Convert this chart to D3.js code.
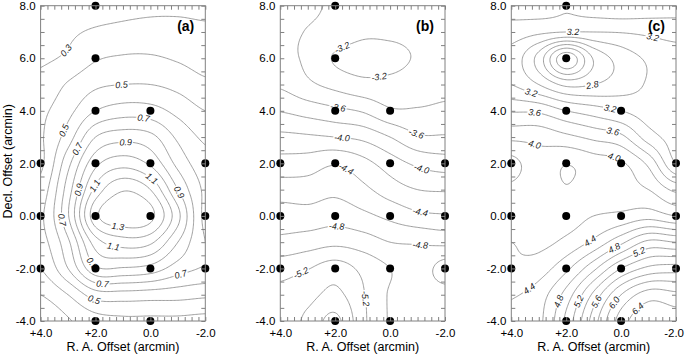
<!DOCTYPE html>
<html>
<head>
<meta charset="utf-8">
<script src="https://cdn.jsdelivr.net/npm/d3@7"></script>
<style>
  body { margin: 0; background: #fff; }
  svg { display: block; font-family: "Liberation Sans", Arial, sans-serif; }
</style>
</head>
<body>
<div id="chart"></div>
<script>
// grid nodes (arcmin): columns run R.A. +4 .. -2, rows run Decl. +8 .. -4
var raNodes = [4, 3, 2, 1, 0, -1, -2];
var decNodes = [8, 7, 6, 5, 4, 3, 2, 1, 0, -1, -2, -3, -4];

// measured positions (black dots)
var pointRA  = [2, 2, 2, 0, 4, 2, 0, -2, 4, 2, 0, -2, 4, 2, 0, -2, 2, 0];
var pointDec = [8, 6, 4, 4, 2, 2, 2, 2, 0, 0, 0, 0, -2, -2, -2, -2, -4, -4];

// panel (a) values
var gridA = [
  [0.10, 0.16, 0.21, 0.25, 0.27, 0.27, 0.26],
  [0.20, 0.27, 0.32, 0.34, 0.35, 0.35, 0.33],
  [0.28, 0.32, 0.39, 0.41, 0.41, 0.39, 0.36],
  [0.33, 0.41, 0.48, 0.50, 0.50, 0.47, 0.42],
  [0.38, 0.47, 0.60, 0.65, 0.64, 0.57, 0.50],
  [0.39, 0.55, 0.80, 0.86, 0.83, 0.68, 0.58],
  [0.38, 0.67, 0.97, 1.06, 0.98, 0.77, 0.64],
  [0.44, 0.75, 1.13, 1.29, 1.20, 0.90, 0.68],
  [0.48, 0.79, 1.27, 1.37, 1.33, 1.03, 0.67],
  [0.46, 0.68, 1.05, 1.15, 1.12, 0.90, 0.70],
  [0.40, 0.60, 0.88, 0.89, 0.86, 0.75, 0.69],
  [0.30, 0.40, 0.55, 0.56, 0.55, 0.54, 0.52],
  [0.22, 0.29, 0.36, 0.38, 0.38, 0.38, 0.37]
];
// panel (b)
var gridB = [
  [-3.52, -3.44, -3.37, -3.31, -3.30, -3.31, -3.33],
  [-3.45, -3.39, -3.33, -3.24, -3.24, -3.26, -3.30],
  [-3.46, -3.36, -3.18, -3.12, -3.14, -3.22, -3.28],
  [-3.57, -3.44, -3.34, -3.26, -3.26, -3.30, -3.35],
  [-3.79, -3.72, -3.65, -3.58, -3.43, -3.42, -3.44],
  [-4.05, -4.03, -4.00, -3.95, -3.80, -3.63, -3.62],
  [-4.28, -4.30, -4.38, -4.27, -4.10, -3.96, -3.90],
  [-4.50, -4.50, -4.55, -4.45, -4.30, -4.20, -4.18],
  [-4.70, -4.68, -4.72, -4.65, -4.55, -4.45, -4.42],
  [-4.85, -4.90, -4.95, -4.90, -4.80, -4.78, -4.75],
  [-5.12, -5.19, -5.30, -5.15, -5.00, -4.90, -5.08],
  [-5.25, -5.33, -5.45, -5.22, -4.98, -4.90, -4.92],
  [-5.28, -5.45, -5.65, -5.25, -4.98, -4.88, -4.88]
];
// panel (c)
var gridC = [
  [3.50, 3.50, 3.42, 3.50, 3.55, 3.52, 3.48],
  [3.30, 3.24, 3.20, 3.20, 3.21, 3.24, 3.28],
  [3.12, 2.72, 2.05, 2.62, 2.88, 3.03, 3.10],
  [3.20, 3.00, 2.75, 2.80, 2.90, 3.02, 3.10],
  [3.58, 3.56, 3.40, 3.30, 3.20, 3.10, 3.10],
  [3.95, 3.93, 3.85, 3.75, 3.65, 3.30, 3.12],
  [4.26, 4.08, 4.19, 4.10, 4.03, 3.75, 3.20],
  [4.16, 4.08, 4.19, 4.10, 4.08, 4.00, 3.75],
  [4.10, 4.10, 4.12, 4.20, 4.25, 4.32, 4.20],
  [4.20, 4.15, 4.25, 4.45, 4.75, 5.05, 5.00],
  [4.22, 4.30, 4.55, 4.95, 5.40, 5.65, 5.70],
  [4.38, 4.50, 4.88, 5.45, 6.00, 6.30, 6.25],
  [4.45, 4.55, 5.05, 5.70, 6.30, 6.55, 6.50]
];

// contour levels
var levelsA = [0.3, 0.4, 0.5, 0.6, 0.7, 0.8, 0.9, 1.0, 1.1, 1.2, 1.3];
var levelsB = [-5.6, -5.4, -5.2, -5.0, -4.8, -4.6, -4.4, -4.2, -4.0, -3.8, -3.6, -3.4, -3.2];
var levelsC = [2.2, 2.4, 2.6, 2.8, 3.0, 3.2, 3.4, 3.6, 3.8, 4.0, 4.2, 4.4, 4.6, 4.8, 5.0, 5.2, 5.4, 5.6, 5.8, 6.0, 6.2, 6.4];

// contour labels: [text, approx R.A., approx Decl.]
var labelsA = [
  ["0.3", 3.23, 6.44], ["0.5", 1.04, 5.05], ["0.5", 3.36, 3.35], ["0.7", 0.27, 3.65],
  ["0.7", 2.81, 2.64], ["0.9", 0.92, 2.83], ["0.9", 2.84, 1.04], ["1.1", 2.14, 1.23],
  ["1.1", -0.08, 1.48], ["0.9", -0.96, 0.86], ["0.7", 3.36, -0.15], ["1.3", 1.17, -0.4],
  ["1.1", 1.37, -1.26], ["0.9", 2.0, -1.7], ["0.7", 1.77, -2.63], ["0.5", 2.08, -3.26],
  ["0.7", -1.15, -2.31]
];
var labelsB = [
  ["-3.2", 1.9, 6.76], ["-3.2", 0.45, 5.62], ["-3.6", 1.9, 4.16], ["-3.6", -1.0, 3.24],
  ["-4.0", 1.77, 3.02], ["-4.0", -1.14, 1.81], ["-4.4", 1.59, 1.81], ["-4.4", -1.14, 0.35],
  ["-4.8", 1.96, -0.3], ["-4.8", -1.1, -1.06], ["-5.2", 3.17, -2.3], ["-5.2", 0.87, -3.14]
];
var labelsC = [
  ["3.2", 1.76, 7.01], ["3.2", -1.15, 6.82], ["2.8", 1.09, 5.17], ["3.2", 3.21, 4.92],
  ["3.6", 3.15, 3.9], ["3.2", 0.42, 3.9], ["3.6", 0.36, 3.02], ["4.0", 3.15, 2.77],
  ["4.0", 0.3, 2.09], ["4.4", 1.27, -0.73], ["4.8", 0.3, -1.1], ["5.2", -0.67, -1.36],
  ["4.4", 3.21, -3.0], ["4.8", 2.3, -3.26], ["5.2", 1.51, -3.26], ["5.6", 0.91, -3.26],
  ["6.0", 0.36, -3.26], ["6.4", -0.55, -3.45]
];

var panelTags = ["(a)", "(b)", "(c)"];
var xTicks = [4, 2, 0, -2];
var yTicks = [8, 6, 4, 2, 0, -2, -4];

var panels = [
  {grid: gridA, levels: levelsA, labels: labelsA, tag: panelTags[0]},
  {grid: gridB, levels: levelsB, labels: labelsB, tag: panelTags[1]},
  {grid: gridC, levels: levelsC, labels: labelsC, tag: panelTags[2]}
];

var W = 685, H = 359;
var panelLeft = [40.6, 280.3, 511.3];
var panelW = 164.7, plotTop = 5.7, plotH = 315.3;
var lineColor = "#808080";

var svg = d3.select("#chart").append("svg")
  .attr("width", W)
  .attr("height", H);

// smooth sampling of the coarse grid (Catmull-Rom) for drawing
function sampler(grid) {
  var rows = grid.length, cols = grid[0].length;
  function g(r, c) {
    r = Math.max(0, Math.min(rows - 1, r));
    c = Math.max(0, Math.min(cols - 1, c));
    return grid[r][c];
  }
  function cr(p0, p1, p2, p3, t) {
    return p1 + 0.5 * t * (p2 - p0 + t * (2 * p0 - 5 * p1 + 4 * p2 - p3 + t * (3 * (p1 - p2) + p3 - p0)));
  }
  return function(u, v) {
    u = Math.max(0, Math.min(cols - 1, u));
    v = Math.max(0, Math.min(rows - 1, v));
    var c = Math.min(Math.floor(u), cols - 2), r = Math.min(Math.floor(v), rows - 2);
    var tu = u - c, tv = v - r, tmp = [];
    for (var k = -1; k <= 2; k++) {
      tmp.push(cr(g(r + k, c - 1), g(r + k, c), g(r + k, c + 1), g(r + k, c + 2), tu));
    }
    return cr(tmp[0], tmp[1], tmp[2], tmp[3], tv);
  };
}

var step = 0.05, pad = 0.1;
var nx = Math.round((raNodes[0] - raNodes[raNodes.length - 1] + 2 * pad) / step) + 1;
var ny = Math.round((decNodes[0] - decNodes[decNodes.length - 1] + 2 * pad) / step) + 1;

panels.forEach(function(p, pi) {
  var left = panelLeft[pi];
  var x = d3.scaleLinear().domain([4, -2]).range([left, left + panelW]);
  var y = d3.scaleLinear().domain([8, -4]).range([plotTop, plotTop + plotH]);

  var f = sampler(p.grid);
  var values = new Array(nx * ny);
  for (var j = 0; j < ny; j++) {
    for (var i = 0; i < nx; i++) {
      values[j * nx + i] = f(-pad + i * step, -pad + j * step);
    }
  }
  var contours = d3.contours().size([nx, ny]).thresholds(p.levels)(values);

  function toPix(c) {
    return [x(4 - (-pad + (c[0] - 0.5) * step)), y(8 - (-pad + (c[1] - 0.5) * step))];
  }
  var path = d3.geoPath(d3.geoTransform({
    point: function(a, b) { var q = toPix([a, b]); this.stream.point(q[0], q[1]); }
  }));

  var clipId = "clip" + pi;
  svg.append("clipPath").attr("id", clipId)
    .append("rect")
    .attr("x", left).attr("y", plotTop)
    .attr("width", panelW).attr("height", plotH);

  var g = svg.append("g").attr("clip-path", "url(#" + clipId + ")");

  g.selectAll("path.iso")
    .data(contours)
    .enter().append("path")
    .attr("class", "iso")
    .attr("d", path)
    .attr("fill", "none")
    .attr("stroke", lineColor)
    .attr("stroke-width", 0.75);

  // labels sit on their contour line
  p.labels.forEach(function(lb) {
    var lv = +lb[0];
    var target = [x(lb[1]), y(lb[2])];
    var ct = contours.find(function(c) { return Math.abs(c.value - lv) < 1e-6; });
    var best = null, bestD = Infinity, angle = 0;
    if (ct) {
      ct.coordinates.forEach(function(poly) {
        poly.forEach(function(ring) {
          var pts = ring.map(toPix);
          for (var k = 0; k < pts.length; k++) {
            var q = pts[k];
            if (q[0] < left + 6 || q[0] > left + panelW - 6 || q[1] < plotTop + 5 || q[1] > plotTop + plotH - 5) continue;
            var d = Math.hypot(q[0] - target[0], q[1] - target[1]);
            if (d < bestD) {
              bestD = d;
              var a = pts[(k - 3 + pts.length) % pts.length], b = pts[(k + 3) % pts.length];
              best = q;
              angle = Math.atan2(b[1] - a[1], b[0] - a[0]) * 180 / Math.PI;
            }
          }
        });
      });
    }
    if (!best || bestD > 30) { best = target; angle = 0; }
    if (angle > 90) angle -= 180;
    if (angle < -90) angle += 180;
    var lg = g.append("g")
      .attr("transform", "translate(" + best[0] + "," + best[1] + ") rotate(" + angle + ")");
    var bg = lg.append("rect").attr("fill", "#fff");
    var t = lg.append("text")
      .attr("text-anchor", "middle")
      .attr("dy", "0.35em")
      .attr("font-size", "9px")
      .attr("font-style", "italic")
      .attr("fill", "#222")
      .text(lb[0]);
    var w = t.node().getComputedTextLength();
    bg.attr("x", -w / 2 - 1).attr("y", -4).attr("width", w + 2).attr("height", 8);
  });

  // measured positions
  svg.append("g").selectAll("circle")
    .data(pointRA.map(function(r, k) { return [r, pointDec[k]]; }))
    .enter().append("circle")
    .attr("cx", function(d) { return x(d[0]); })
    .attr("cy", function(d) { return y(d[1]); })
    .attr("r", 4)
    .attr("fill", "#000");

  // inner ticks on all four sides
  var xMinor = d3.range(-2, 4.001, 0.25);
  var yMinor = d3.range(-4, 8.001, 0.5);
  function tickStyle(sel) {
    sel.select(".domain").remove();
    sel.selectAll("line").attr("stroke", lineColor);
    sel.selectAll("text").remove();
  }
  svg.append("g").attr("transform", "translate(0," + (plotTop + plotH) + ")")
    .call(d3.axisBottom(x).tickValues(xMinor).tickSize(-4)).call(tickStyle);
  svg.append("g").attr("transform", "translate(0," + plotTop + ")")
    .call(d3.axisTop(x).tickValues(xMinor).tickSize(-4)).call(tickStyle);
  svg.append("g").attr("transform", "translate(" + left + ",0)")
    .call(d3.axisLeft(y).tickValues(yMinor).tickSize(-4)).call(tickStyle);
  svg.append("g").attr("transform", "translate(" + (left + panelW) + ",0)")
    .call(d3.axisRight(y).tickValues(yMinor).tickSize(-4)).call(tickStyle);

  // frame
  svg.append("rect")
    .attr("x", left).attr("y", plotTop)
    .attr("width", panelW).attr("height", plotH)
    .attr("fill", "none")
    .attr("stroke", lineColor)
    .attr("stroke-width", 1);

  // tick labels
  var xl = svg.append("g").attr("transform", "translate(0," + (plotTop + plotH) + ")")
    .call(d3.axisBottom(x).tickValues(xTicks).tickSize(0).tickPadding(8)
      .tickFormat(function(v) { return v > 0 ? "+" + v.toFixed(1) : v.toFixed(1); }));
  xl.select(".domain").remove();
  xl.selectAll("text").attr("font-size", "11.5px").attr("font-family", null).attr("fill", "#000");
  // keep the last label inside the page
  xl.selectAll("text").each(function() {
    var b = this.getBBox(), m = this.parentNode.transform.baseVal.consolidate().matrix;
    var right = m.e + b.x + b.width;
    if (right > W - 1) d3.select(this).attr("x", -(right - (W - 1)));
  });

  var yl = svg.append("g").attr("transform", "translate(" + left + ",0)")
    .call(d3.axisLeft(y).tickValues(yTicks).tickSize(0).tickPadding(5)
      .tickFormat(function(v) { return v.toFixed(1); }));
  yl.select(".domain").remove();
  yl.selectAll("text").attr("font-size", "11.5px").attr("font-family", null).attr("fill", "#000");

  // axis title
  svg.append("text")
    .attr("x", left + panelW / 2)
    .attr("y", 351)
    .attr("text-anchor", "middle")
    .attr("font-size", "12.5px")
    .text("R. A. Offset (arcmin)");

  // panel tag
  svg.append("text")
    .attr("x", left + panelW - 11)
    .attr("y", 30.5)
    .attr("text-anchor", "end")
    .attr("font-size", "14px")
    .attr("font-weight", "bold")
    .text(p.tag);
});

svg.append("text")
  .attr("transform", "translate(12," + (plotTop + plotH / 2 - 2) + ") rotate(-90)")
  .attr("text-anchor", "middle")
  .attr("font-size", "12.5px")
  .text("Decl. Offset (arcmin)");
</script>
</body>
</html>
